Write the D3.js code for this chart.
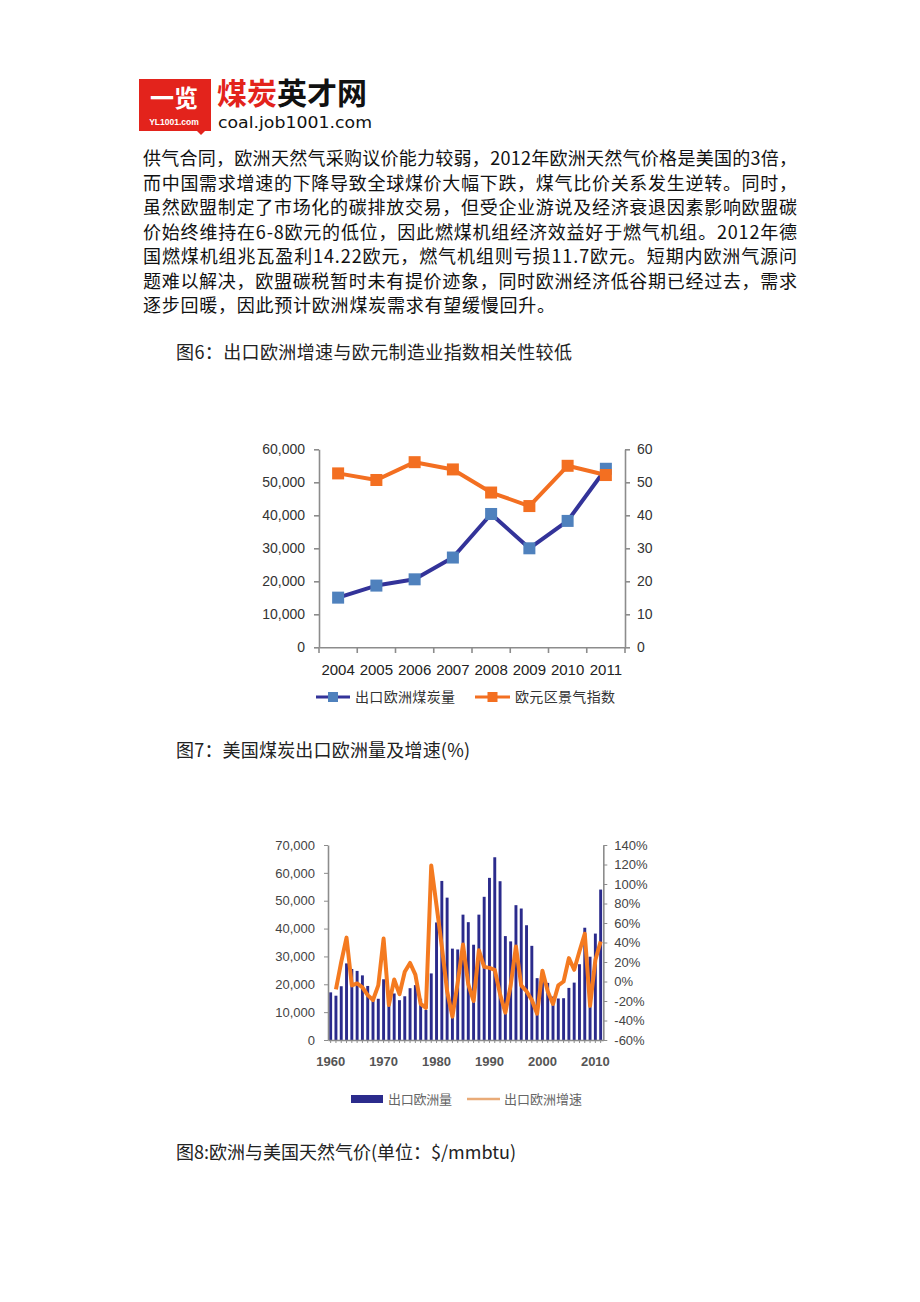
<!DOCTYPE html>
<html><head><meta charset="utf-8">
<script src="https://cdn.jsdelivr.net/npm/d3@7"></script>
<style>body{margin:0;background:#fff}svg{display:block}</style>
</head><body>
<svg id="page" width="920" height="1302"></svg>
<script>
// ---------- text content ----------
const bodyLines = [
  "供气合同，欧洲天然气采购议价能力较弱，2012年欧洲天然气价格是美国的3倍，",
  "而中国需求增速的下降导致全球煤价大幅下跌，煤气比价关系发生逆转。同时，",
  "虽然欧盟制定了市场化的碳排放交易，但受企业游说及经济衰退因素影响欧盟碳",
  "价始终维持在6-8欧元的低位，因此燃煤机组经济效益好于燃气机组。2012年德",
  "国燃煤机组兆瓦盈利14.22欧元，燃气机组则亏损11.7欧元。短期内欧洲气源问",
  "题难以解决，欧盟碳税暂时未有提价迹象，同时欧洲经济低谷期已经过去，需求",
  "逐步回暖，因此预计欧洲煤炭需求有望缓慢回升。"
];
const captionTexts = [
  "图6：出口欧洲增速与欧元制造业指数相关性较低",
  "图7：美国煤炭出口欧洲量及增速(%)",
  "图8:欧洲与美国天然气价(单位：$/mmbtu)"
];

// ---------- chart 1 data ----------
const years1 = ["2004","2005","2006","2007","2008","2009","2010","2011"];
const exportEurope1 = [15050, 18700, 20600, 27200, 40400, 30000, 38300, 54100];
const euroPMI = [52.7, 50.7, 56.1, 53.9, 46.9, 42.8, 55.0, 52.2];
const leftTicks1 = [0, 10000, 20000, 30000, 40000, 50000, 60000];
const rightTicks1 = [0, 10, 20, 30, 40, 50, 60];
const legend1 = ["出口欧洲煤炭量", "欧元区景气指数"];

// ---------- chart 2 data ----------
const years2 = [1960,1961,1962,1963,1964,1965,1966,1967,1968,1969,
  1970,1971,1972,1973,1974,1975,1976,1977,1978,1979,
  1980,1981,1982,1983,1984,1985,1986,1987,1988,1989,
  1990,1991,1992,1993,1994,1995,1996,1997,1998,1999,
  2000,2001,2002,2003,2004,2005,2006,2007,2008,2009,2010,2011];
const exportVolume = [17100,15900,19300,27500,25500,24800,23200,19400,15200,14800,
  21800,16200,16700,14300,15700,18600,19700,14800,10800,23900,
  42200,57100,51100,32800,32500,45000,42300,34200,45000,51400,
  58200,65600,57000,37300,35400,48400,47200,41200,33800,22200,
  22800,20500,15600,14900,15000,18700,20600,27200,40300,29900,38200,54000];
const growthYears = years2.slice(1);
const growthRate = [-8,20,45,-4,-2,-6,-14,-19,-4,
  44,-24,2,-13,10,19,7,-23,-27,119,
  78,36,-10,-36,-1,38,-3,-20,32,15,
  14,12,-13,-32,-4,36,-4,-10,-19,-33,
  11,-10,-23,-4,0,24,12,31,49,-25,22,41];
const leftTicks2 = [0,10000,20000,30000,40000,50000,60000,70000];
const rightTicks2 = [-60,-40,-20,0,20,40,60,80,100,120,140];
const xLabelYears2 = [1960,1970,1980,1990,2000,2010];
const legend2 = ["出口欧洲量", "出口欧洲增速"];

const svg = d3.select("#page");
const CJK = "'Noto Sans CJK SC', 'Noto Sans', sans-serif";
const LAT = "'Liberation Sans', Arial, sans-serif";

// ---------- logo ----------
const logo = svg.append("g");
logo.append("path")
  .attr("d","M139,79 H211 V131 H205 L201,135 L197,131 H139 Z")
  .attr("fill","#e3231c");
logo.append("text").attr("x",174).attr("y",107).attr("text-anchor","middle")
  .attr("font-family",CJK).attr("font-weight",700).attr("font-size",24)
  .attr("fill","#fff").text("一览");
logo.append("text").attr("x",174).attr("y",125).attr("text-anchor","middle")
  .attr("font-family",LAT).attr("font-weight",700).attr("font-size",8.5)
  .attr("fill","#fff").text("YL1001.com");
const brand = logo.append("text").attr("x",217).attr("y",104)
  .attr("font-family",CJK).attr("font-weight",700).attr("font-size",30)
  .attr("textLength",150).attr("lengthAdjust","spacingAndGlyphs");
brand.append("tspan").attr("fill","#e3231c").text("煤炭");
brand.append("tspan").attr("fill","#111").text("英才网");
logo.append("text").attr("x",218).attr("y",128)
  .attr("font-family","'DejaVu Sans', sans-serif").attr("font-size",15.5)
  .attr("fill","#111").attr("textLength",154).attr("lengthAdjust","spacingAndGlyphs")
  .text("coal.job1001.com");

// ---------- body text ----------
const bodyFullWidth = 654;
svg.append("g").selectAll("text").data(bodyLines).join("text")
  .attr("x",143).attr("y",(d,i)=>165 + i*24.5)
  .attr("font-family",CJK).attr("font-size",18).attr("fill","#111")
  .attr("textLength",(d,i)=> i < bodyLines.length-1 ? bodyFullWidth : 412)
  .attr("lengthAdjust","spacing")
  .text(d=>d);

// captions
const capPos = [{y:359, w:396},{y:757, w:294},{y:1159, w:340}];
svg.append("g").selectAll("text").data(captionTexts).join("text")
  .attr("x",176).attr("y",(d,i)=>capPos[i].y)
  .attr("font-family",CJK).attr("font-size",18).attr("fill","#222")
  .attr("textLength",(d,i)=>capPos[i].w).attr("lengthAdjust","spacing")
  .text(d=>d);

// ---------- chart 1 ----------
(function(){
  const g = svg.append("g");
  const x = d3.scaleBand().domain(years1).range([319, 625]);
  const yL = d3.scaleLinear().domain([0,60000]).range([647.3, 449.3]);
  const yR = d3.scaleLinear().domain([0,60]).range([647.3, 449.3]);
  const axisCol = "#8c8c8c";

  const la = g.append("g").attr("transform","translate(319,0)")
    .call(d3.axisLeft(yL).tickValues(leftTicks1).tickFormat(d3.format(",")).tickSize(5).tickSizeOuter(0).tickPadding(9));
  const ra = g.append("g").attr("transform","translate(625,0)")
    .call(d3.axisRight(yR).tickValues(rightTicks1).tickSize(5).tickSizeOuter(0).tickPadding(7));
  const ba = g.append("g").attr("transform","translate(0,647.3)")
    .call(d3.axisBottom(x).tickSize(0).tickPadding(17));
  [la,ra,ba].forEach(a=>{
    a.selectAll("path,line").attr("stroke",axisCol).attr("stroke-width",1.6);
    a.selectAll("text").attr("font-family",LAT).attr("font-size",14).attr("fill","#333");
  });
  ba.selectAll("text").attr("font-size",15).attr("fill","#222");
  // bottom tick marks at category boundaries
  const bounds = years1.map(d=>x(d)).concat([x(years1[years1.length-1]) + x.step()]);
  g.append("g").selectAll("line").data(bounds).join("line")
    .attr("x1",d=>d).attr("x2",d=>d).attr("y1",647.3).attr("y2",653)
    .attr("stroke",axisCol).attr("stroke-width",1.6);

  const cx = d=> x(d) + x.bandwidth()/2;
  const blue = "#333399", blueMk = "#4f81bd", orange = "#f36f21";
  const lineB = d3.line().x((d,i)=>cx(years1[i])).y(d=>yL(d));
  const lineO = d3.line().x((d,i)=>cx(years1[i])).y(d=>yR(d));
  g.append("path").attr("d",lineB(exportEurope1)).attr("fill","none")
    .attr("stroke",blue).attr("stroke-width",4).attr("stroke-linejoin","round");
  g.append("path").attr("d",lineO(euroPMI)).attr("fill","none")
    .attr("stroke",orange).attr("stroke-width",4).attr("stroke-linejoin","round");
  const ms = 12;
  g.append("g").selectAll("rect").data(exportEurope1).join("rect")
    .attr("x",(d,i)=>cx(years1[i])-ms/2).attr("y",d=>yL(d)-ms/2)
    .attr("width",ms).attr("height",ms).attr("fill",blueMk);
  g.append("g").selectAll("rect").data(euroPMI).join("rect")
    .attr("x",(d,i)=>cx(years1[i])-ms/2).attr("y",d=>yR(d)-ms/2)
    .attr("width",ms).attr("height",ms).attr("fill",orange);

  // legend
  const lg = g.append("g");
  const items = [{x0:316, x1:350, c:blue, mk:blueMk, tx:355},{x0:475, x1:510, c:orange, mk:orange, tx:515}];
  items.forEach((it,i)=>{
    lg.append("line").attr("x1",it.x0).attr("x2",it.x1).attr("y1",697).attr("y2",697)
      .attr("stroke",it.c).attr("stroke-width",3);
    lg.append("rect").attr("x",(it.x0+it.x1)/2-5).attr("y",692).attr("width",10).attr("height",10).attr("fill",it.mk);
    lg.append("text").attr("x",it.tx).attr("y",702).attr("font-family",CJK).attr("font-size",14)
      .attr("fill","#333").attr("textLength",100).attr("lengthAdjust","spacing").text(legend1[i]);
  });
})();

// ---------- chart 2 ----------
(function(){
  const g = svg.append("g");
  const x = d3.scaleBand().domain(years2).range([328, 603.3]).paddingInner(0.45).paddingOuter(0.225);
  const yL = d3.scaleLinear().domain([0,70000]).range([1040, 845]);
  const yR = d3.scaleLinear().domain([-60,140]).range([1040, 845]);
  const axisCol = "#8c8c8c";
  const navy = "#2b2b8c", orange = "#f47a20";

  g.append("g").selectAll("rect").data(exportVolume).join("rect")
    .attr("x",(d,i)=>x(years2[i])).attr("y",d=>yL(d))
    .attr("width",x.bandwidth()).attr("height",d=>yL(0)-yL(d))
    .attr("fill",navy);

  const la = g.append("g").attr("transform","translate(328,0)")
    .call(d3.axisLeft(yL).tickValues(leftTicks2).tickFormat(d3.format(",")).tickSize(4).tickSizeOuter(0).tickPadding(9));
  const ra = g.append("g").attr("transform","translate(603.3,0)")
    .call(d3.axisRight(yR).tickValues(rightTicks2).tickFormat(d=>d+"%").tickSize(4).tickSizeOuter(0).tickPadding(7));
  const ba = g.append("g").attr("transform","translate(0,1040)")
    .call(d3.axisBottom(x).tickValues(years2).tickFormat(d=> xLabelYears2.includes(d) ? d : "").tickSize(3).tickSizeOuter(0).tickPadding(14));
  [la,ra,ba].forEach(a=>{
    a.selectAll("path").attr("stroke",axisCol).attr("stroke-width",1.6);
    a.selectAll("line").attr("stroke",axisCol).attr("stroke-width",1);
    a.selectAll("text").attr("font-family",LAT).attr("font-size",13).attr("fill","#444");
  });
  ba.selectAll("text").attr("font-weight",700).attr("fill","#555");

  const line = d3.line().x((d,i)=>x(growthYears[i])+x.bandwidth()/2).y(d=>yR(d));
  g.append("path").attr("d",line(growthRate)).attr("fill","none")
    .attr("stroke",orange).attr("stroke-width",4).attr("stroke-linejoin","round");

  // legend
  g.append("rect").attr("x",351).attr("y",1095).attr("width",32).attr("height",8).attr("fill",navy);
  g.append("text").attr("x",388).attr("y",1104).attr("font-family",CJK).attr("font-size",13)
    .attr("fill","#666").attr("textLength",64).attr("lengthAdjust","spacing").text(legend2[0]);
  g.append("line").attr("x1",467).attr("x2",500).attr("y1",1099).attr("y2",1099)
    .attr("stroke","#e9ab78").attr("stroke-width",2.5);
  g.append("text").attr("x",504).attr("y",1104).attr("font-family",CJK).attr("font-size",13)
    .attr("fill","#666").attr("textLength",78).attr("lengthAdjust","spacing").text(legend2[1]);
})();
</script>
</body></html>
